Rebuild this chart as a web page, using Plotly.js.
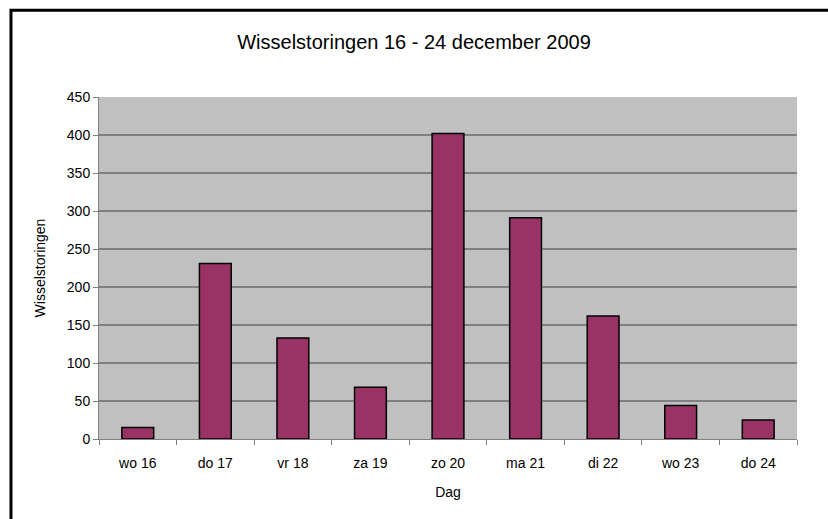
<!DOCTYPE html>
<html>
<head>
<meta charset="utf-8">
<script src="https://cdn.plot.ly/plotly-3.0.1.min.js"></script>
<style>html,body{margin:0;padding:0;background:#fff;}#chart{width:828px;height:519px;}</style>
</head>
<body>
<div id="chart"></div>
<script>
const categories = ["wo 16", "do 17", "vr 18", "za 19", "zo 20", "ma 21", "di 22", "wo 23", "do 24"];
const storingen = [15, 231, 133, 68, 402, 291, 162, 44, 25];
const yTicks = [0, 50, 100, 150, 200, 250, 300, 350, 400, 450];

const font = "Liberation Sans, Arial, sans-serif";
const trace = {
  type: "bar",
  x: categories,
  y: storingen,
  marker: {color: "#993366", line: {color: "#000000", width: 1.5}},
  hoverinfo: "x+y"
};
const layout = {
  width: 828, height: 519,
  margin: {l: 99, r: 31, t: 97, b: 80},
  paper_bgcolor: "#ffffff",
  plot_bgcolor: "#c0c0c0",
  font: {family: font, size: 14, color: "#000000"},
  title: {text: "Wisselstoringen 16 - 24 december 2009", font: {family: font, size: 20, color: "#000"}, x: 0.5, xref: "container", xanchor: "center", y: 0.92, yref: "container", yanchor: "middle"},
  bargap: 0.59,
  showlegend: false,
  xaxis: {
    title: {text: "Dag", font: {size: 14}, standoff: 17},
    tickson: "boundaries", ticks: "outside", ticklen: 5, tickcolor: "#808080",
    ticklabelstandoff: 11,
    showline: true, linecolor: "#808080", linewidth: 1,
    showgrid: false, zeroline: false,
    tickfont: {size: 14}
  },
  yaxis: {
    title: {text: "Wisselstoringen", font: {size: 14}, standoff: 17},
    range: [0, 450], tickvals: yTicks, ticktext: yTicks.map(String),
    ticks: "outside", ticklen: 5, tickcolor: "#808080",
    showline: true, linecolor: "#808080", linewidth: 1,
    showgrid: true, gridcolor: "#808080", gridwidth: 1.3,
    zeroline: false, tickfont: {size: 14}
  },
  shapes: [
    {type: "rect", xref: "paper", yref: "paper", x0: -0.1261, x1: 1.2, y0: -0.3, y1: 1.254,
     line: {color: "#000000", width: 3}, fillcolor: "rgba(0,0,0,0)", layer: "below"}
  ]
};
Plotly.newPlot("chart", [trace], layout, {displayModeBar: false, staticPlot: true});
</script>
</body>
</html>
